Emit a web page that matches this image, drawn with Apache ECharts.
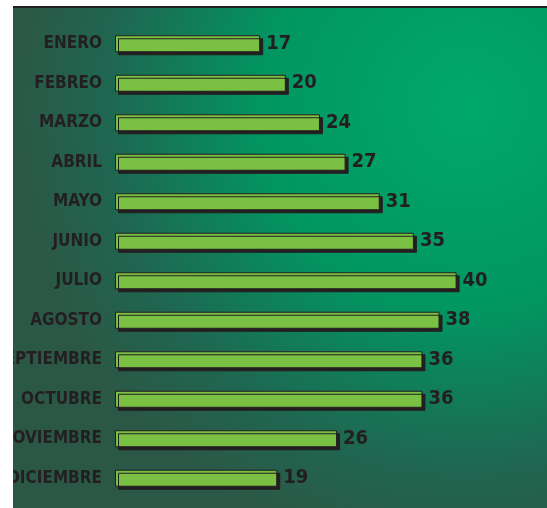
<!DOCTYPE html>
<html>
<head>
<meta charset="utf-8">
<script src="https://cdn.jsdelivr.net/npm/echarts@6/dist/echarts.min.js"></script>
<style>
  html, body { margin: 0; padding: 0; background: #fff; }
  #chart { width: 547px; height: 508px; }
</style>
</head>
<body>
<div id="chart"></div>
<script>
// meses y valores
var meses = ['ENERO', 'FEBREO', 'MARZO', 'ABRIL', 'MAYO', 'JUNIO', 'JULIO',
             'AGOSTO', 'SEPTIEMBRE', 'OCTUBRE', 'NOVIEMBRE', 'DICIEMBRE'];
var valores = [17, 20, 24, 27, 31, 35, 40, 38, 36, 36, 26, 19];

var fuente = "'DejaVu Sans Condensed', 'Liberation Sans', Arial, sans-serif";
var myChart = echarts.init(document.getElementById('chart'));

var option = {
  animation: false,
  graphic: [
    {
      type: 'rect', z: -10,
      shape: { x: 13, y: 6, width: 534, height: 502 },
      style: {
        fill: {
          type: 'radial', x: 0.85, y: 0.2, r: 0.9,
          colorStops: [
            { offset: 0, color: '#00a86b' },
            { offset: 0.45, color: '#019662' },
            { offset: 0.8, color: '#1f6650' },
            { offset: 1, color: '#2b5846' }
          ]
        }
      }
    },
    {
      type: 'rect', z: -9,
      shape: { x: 13, y: 6, width: 534, height: 2 },
      style: { fill: '#231f20' }
    },
    {
      // tapa lo que sobresale a la izquierda
      type: 'rect', z: 100,
      shape: { x: 0, y: 0, width: 13, height: 508 },
      style: { fill: '#ffffff' }
    }
  ],
  grid: { left: 115, top: 24, width: 427, height: 474, outerBoundsMode: 'none', containLabel: false },
  xAxis: {
    type: 'value', min: 0, max: 50, show: false
  },
  yAxis: {
    type: 'category',
    data: meses,
    inverse: true,
    axisLine: { show: false },
    axisTick: { show: false },
    axisLabel: {
      margin: 13,
      color: '#231f20',
      fontFamily: fuente,
      fontWeight: 'bold',
      fontSize: 17
    }
  },
  series: [{
    type: 'bar',
    data: valores,
    barWidth: 17,
    itemStyle: {
      color: '#7ac143',
      borderColor: '#231f20',
      borderWidth: 1,
      shadowColor: '#231f20',
      shadowOffsetX: 3,
      shadowOffsetY: 3,
      shadowBlur: 0
    },
    label: {
      show: true,
      position: 'right',
      distance: 6,
      color: '#231f20',
      fontFamily: fuente,
      fontWeight: 'bold',
      fontSize: 20
    }
  }]
};

myChart.setOption(option);
</script>
</body>
</html>
